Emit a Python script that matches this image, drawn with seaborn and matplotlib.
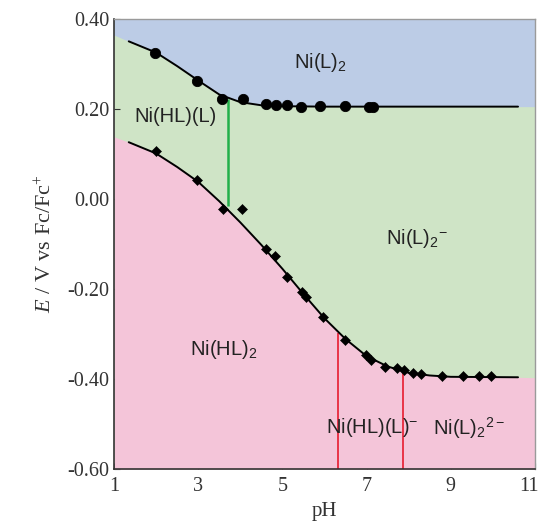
import numpy as np
import pandas as pd
import matplotlib
matplotlib.use("Agg")
import matplotlib.pyplot as plt
import matplotlib.transforms as mtransforms
import seaborn as sns

# Boundary between Ni(L)2 and Ni(HL)(L) / Ni(L)2- (line)
upper_line_ph = [1.35, 2.0, 2.5, 3.0, 3.5, 4.0, 4.5, 5.0, 6.0, 8.0, 10.6]
upper_line_e = [0.350, 0.325, 0.295, 0.263, 0.232, 0.215, 0.208, 0.206, 0.205, 0.205, 0.205]

# Boundary between the reduced species (lower line)
lower_line_ph = [1.35, 2.0, 2.5, 3.0, 3.5, 4.0, 4.5, 5.0, 5.5, 6.0, 6.5,
                 7.0, 7.5, 8.0, 8.5, 9.0, 10.6]
lower_line_e = [0.126, 0.101, 0.071, 0.038, -0.005, -0.052, -0.102, -0.155,
                -0.211, -0.265, -0.311, -0.349, -0.372, -0.386, -0.392,
                -0.395, -0.396]

# Edges of the shaded regions (they run to the frame)
upper_edge_ph = [1.0] + upper_line_ph + [11.0]
upper_edge_e = [0.364] + upper_line_e + [0.205]
lower_edge_ph = [1.0] + lower_line_ph + [11.0]
lower_edge_e = [0.138] + lower_line_e + [-0.397]

# Measured points
circle_ph = [1.98, 2.98, 3.57, 4.07, 4.6, 4.85, 5.1, 5.45, 5.9, 6.5, 7.05, 7.15]
circle_e = [0.325, 0.262, 0.222, 0.221, 0.210, 0.209, 0.209, 0.204, 0.206,
            0.206, 0.205, 0.205]
diamond_ph = [2.0, 2.98, 3.6, 4.05, 4.62, 4.83, 5.1, 5.47, 5.55, 5.97, 6.5,
              6.98, 7.1, 7.45, 7.73, 7.88, 8.1, 8.29, 8.8, 9.3, 9.67, 9.95]
diamond_e = [0.107, 0.041, -0.023, -0.023, -0.112, -0.127, -0.174, -0.206,
             -0.217, -0.263, -0.313, -0.347, -0.357, -0.373, -0.376, -0.380,
             -0.387, -0.389, -0.393, -0.394, -0.394, -0.394]

# Vertical separators: (pH, bottom E, top E)
green_sep = (3.72, -0.015, 0.222)
red_seps = [(6.33, -0.60, -0.298), (7.86, -0.60, -0.385)]

labels = [
    (5.9, 0.302, r"Ni(L)$_\mathsf{2}$"),
    (2.45, 0.184, "Ni(HL)(L)"),
    (8.2, -0.087, r"Ni(L)$_\mathsf{2}$$^\mathsf{-}$"),
    (3.6, -0.335, r"Ni(HL)$_\mathsf{2}$"),
    (7.14, -0.507, r"Ni(HL)(L)$^\mathsf{-}$"),
    (9.43, -0.509, r"Ni(L)$_\mathsf{2}$$^\mathsf{2-}$"),
]

x_ticks = [1, 3, 5, 7, 9, 11]
y_ticks = [-0.60, -0.40, -0.20, 0.00, 0.20, 0.40]

sns.set_style("ticks")
plt.rcParams["font.family"] = ["Liberation Serif", "DejaVu Serif"]
plt.rcParams["mathtext.fontset"] = "custom"
plt.rcParams["mathtext.rm"] = "Liberation Serif"
plt.rcParams["mathtext.it"] = "Liberation Serif:italic"
plt.rcParams["mathtext.sf"] = "Liberation Sans"

fig = plt.figure(figsize=(5.43, 5.23), dpi=100)
ax = fig.add_axes([0.21, 0.103, 0.775, 0.861])

blue = "#bccce6"
green = "#cfe4c6"
pink = "#f4c5d9"

# green is the middle region: paint it as the background, then blue/pink on top
ax.set_facecolor(green)
ax.fill_between(upper_edge_ph, upper_edge_e, 0.40, color=blue, lw=0)
ax.fill_between(lower_edge_ph, -0.60, lower_edge_e, color=pink, lw=0)

ax.vlines(green_sep[0], green_sep[1], green_sep[2], color="#22b04a", lw=1.8)
for ph, lo, hi in red_seps:
    ax.vlines(ph, lo, hi, color="#e8283c", lw=1.3)

up_df = pd.DataFrame({"pH": upper_line_ph, "E": upper_line_e})
lo_df = pd.DataFrame({"pH": lower_line_ph, "E": lower_line_e})
sns.lineplot(data=up_df, x="pH", y="E", ax=ax, color="black", lw=1.4, sort=False)
sns.lineplot(data=lo_df, x="pH", y="E", ax=ax, color="black", lw=1.4, sort=False)

ci_df = pd.DataFrame({"pH": circle_ph, "E": circle_e})
di_df = pd.DataFrame({"pH": diamond_ph, "E": diamond_e})
sns.scatterplot(data=ci_df, x="pH", y="E", ax=ax, color="black", marker="o",
                s=55, edgecolor="black", zorder=5)
sns.scatterplot(data=di_df, x="pH", y="E", ax=ax, color="black", marker="D",
                s=26, edgecolor="black", zorder=5)

for x, y, t in labels:
    ax.text(x, y, t, ha="center", va="center", fontsize=14.5,
            family=["Liberation Sans", "DejaVu Sans"], color="#222222")

ax.set_xlim(1, 11)
ax.set_ylim(-0.60, 0.40)
ax.set_xticks(x_ticks)
ax.set_xticklabels([str(v) for v in x_ticks])
ax.set_yticks(y_ticks)
ax.set_yticklabels([f"{v:.2f}" for v in y_ticks])
ax.tick_params(direction="in", length=4, labelsize=14.5, colors="#333333")
ax.tick_params(axis="x", pad=6)

# keep the last x label ("11") inside the canvas
last = ax.get_xticklabels()[-1]
last.set_transform(last.get_transform() +
                   mtransforms.ScaledTranslation(-4 / 72, 0, fig.dpi_scale_trans))

ax.set_xlabel("pH", fontsize=15, labelpad=4)
ax.set_ylabel(r"$\mathit{E}$ / V vs Fc/Fc$^{+}$", fontsize=16, labelpad=8,
              family=["Liberation Serif"])
ax.yaxis.label.set_color("#333333")
ax.xaxis.label.set_color("#333333")

for side in ["top", "right"]:
    ax.spines[side].set_visible(True)
    ax.spines[side].set_color("#9a9a9a")
    ax.spines[side].set_linewidth(1.0)
for side in ["left", "bottom"]:
    ax.spines[side].set_color("#333333")
    ax.spines[side].set_linewidth(1.2)

fig.savefig("out.png", dpi=100)
